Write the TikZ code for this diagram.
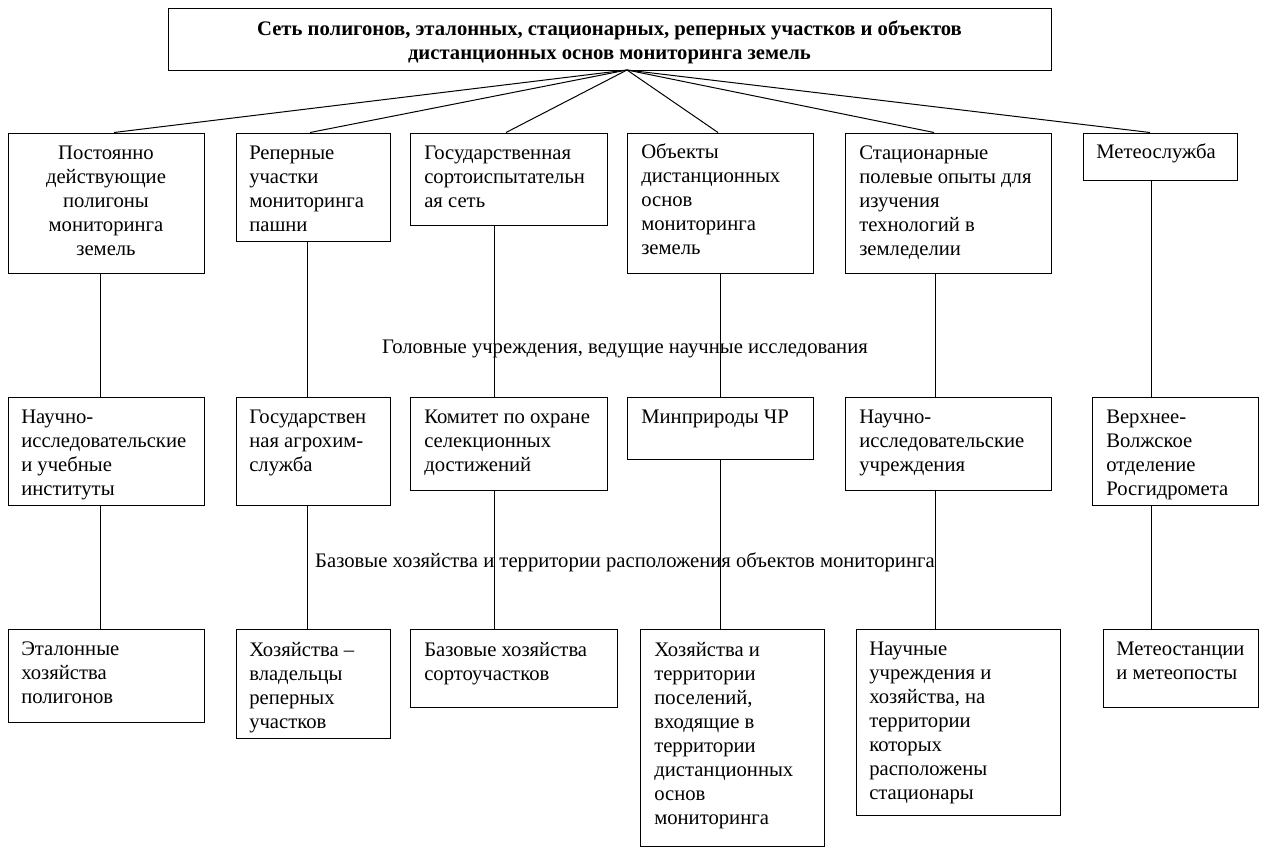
\documentclass[tikz,border=0pt]{standalone}
\usepackage{fontspec}
\setmainfont{Liberation Serif}
\usetikzlibrary{fit}

\begin{document}
\begin{tikzpicture}[x=0.75pt,y=0.75pt,yscale=-1,xscale=1,
  box/.style={draw, line width=0.75pt, inner sep=0pt},
  txt/.style={anchor=north west, inner sep=0pt, align=left, font=\fontsize{15.5}{18}\selectfont},
  link/.style={line width=0.75pt}]
\useasboundingbox (0,0) rectangle (1264,854);

%Shape: Rectangle [title]
\node[box, fit={(168,8) (1051,70)}] (top) {};
% Text Node
\node[txt, anchor=north, align=center, font=\fontsize{15.5}{18}\selectfont\bfseries] (ttop) at (609.5,20) {Сеть полигонов, эталонных, стационарных, реперных участков и объектов\\дистанционных основ мониторинга земель};
\coordinate (hub) at (627,70);

%Shapes: Rectangles [row 1]
\node[box, fit={(8,133) (204,273)}] (r1a) {};
\node[box, fit={(236,133) (390,241)}] (r1b) {};
\node[box, fit={(410,133) (607,225)}] (r1c) {};
\node[box, fit={(627,133) (813,273)}] (r1d) {};
\node[box, fit={(845,133) (1051,273)}] (r1e) {};
\node[box, fit={(1083,133) (1237,180)}] (r1f) {};
% Text Nodes
\node[txt, anchor=north, align=center] (t1a) at (106,146) {Постоянно\\действующие\\полигоны\\мониторинга\\земель};
\node[txt] (t1b) at (249,146) {Реперные\\участки\\мониторинга\\пашни};
\node[txt] (t1c) at (424,146) {Государственная\\сортоиспытательн\\ая сеть};
\node[txt] (t1d) at (641,143) {Объекты\\дистанционных\\основ\\мониторинга\\земель};
\node[txt] (t1e) at (859,146) {Стационарные\\полевые опыты для\\изучения\\технологий в\\земледелии};
\node[txt] (t1f) at (1096,143) {Метеослужба};

%Shapes: Rectangles [row 2]
\node[box, fit={(8,397) (204,505)}] (r2a) {};
\node[box, fit={(236,397) (390,505)}] (r2b) {};
\node[box, fit={(410,397) (607,490)}] (r2c) {};
\node[box, fit={(627,397) (813,459)}] (r2d) {};
\node[box, fit={(845,397) (1051,490)}] (r2e) {};
\node[box, fit={(1092,397) (1258,505)}] (r2f) {};
% Text Nodes
\node[txt] (t2a) at (21,410) {Научно-\\исследовательские\\и учебные\\институты};
\node[txt] (t2b) at (249,410) {Государствен\\ная агрохим-\\служба};
\node[txt] (t2c) at (424,410) {Комитет по охране\\селекционных\\достижений};
\node[txt] (t2d) at (641,410) {Минприроды ЧР};
\node[txt] (t2e) at (859,410) {Научно-\\исследовательские\\учреждения};
\node[txt] (t2f) at (1106,410) {Верхнее-\\Волжское\\отделение\\Росгидромета};

%Shapes: Rectangles [row 3]
\node[box, fit={(8,629) (204,722)}] (r3a) {};
\node[box, fit={(236,629) (390,738)}] (r3b) {};
\node[box, fit={(410,629) (617,707)}] (r3c) {};
\node[box, fit={(640,629) (824,846)}] (r3d) {};
\node[box, fit={(856,629) (1060,815)}] (r3e) {};
\node[box, fit={(1103,629) (1258,707)}] (r3f) {};
% Text Nodes
\node[txt] (t3a) at (21,642) {Эталонные\\хозяйства\\полигонов};
\node[txt] (t3b) at (249,642) {Хозяйства –\\владельцы\\реперных\\участков};
\node[txt] (t3c) at (424,642) {Базовые хозяйства\\сортоучастков};
\node[txt] (t3d) at (654,642) {Хозяйства и\\территории\\поселений,\\входящие в\\территории\\дистанционных\\основ\\мониторинга};
\node[txt] (t3e) at (869,642) {Научные\\учреждения и\\хозяйства, на\\территории\\которых\\расположены\\стационары};
\node[txt] (t3f) at (1116,642) {Метеостанции\\и метеопосты};

%Straight Lines [from title]
\foreach \c/\x in {a/114,b/310,c/506,d/718,e/934,f/1150}
  \draw[link] (hub) -- (r1\c.north -| \x,0);

%Straight Lines [columns]
\foreach \c/\x in {a/100,b/307,c/494,d/720,e/935,f/1151} {
  \draw[link] (r1\c.south -| \x,0) -- (r2\c.north -| \x,0);
  \draw[link] (r2\c.south -| \x,0) -- (r3\c.north -| \x,0);
}

% Text Node
\node[txt, anchor=base] (lvl1) at (625,353) {Головные учреждения, ведущие научные исследования};
% Text Node
\node[txt, anchor=base] (lvl2) at (625,567) {Базовые хозяйства и территории расположения объектов мониторинга};

\end{tikzpicture}
\end{document}
